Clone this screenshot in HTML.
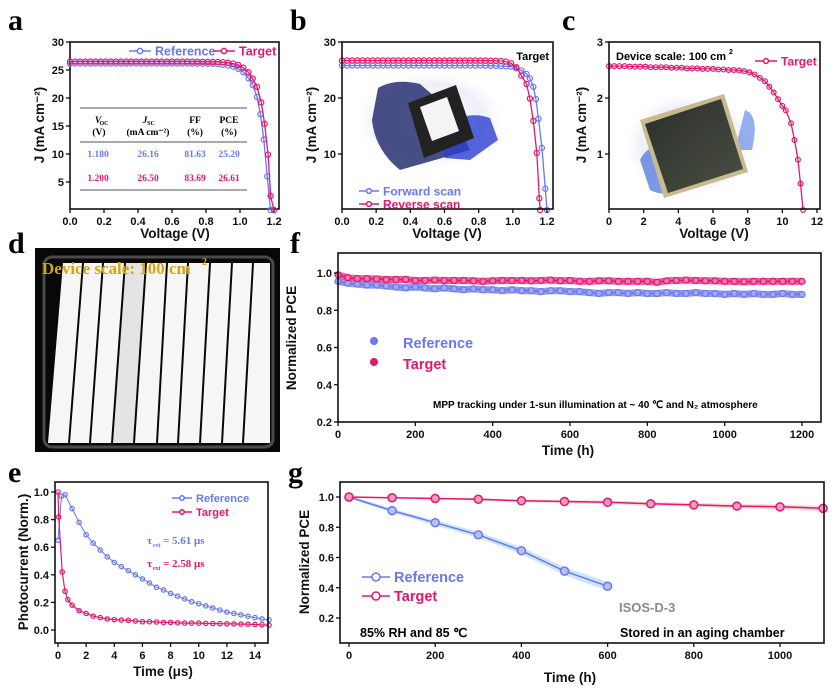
<!DOCTYPE html>
<html><head><meta charset="utf-8">
<style>
html,body{margin:0;padding:0;background:#fff;}
svg{display:block;font-family:"Liberation Sans",sans-serif;}
.tk{font-size:11px;font-weight:bold;fill:#111;}
.at{font-size:13.5px;font-weight:bold;fill:#111;}
.pl{font-family:"Liberation Serif",serif;font-weight:bold;font-size:30px;fill:#000;}
</style></head><body>
<svg id="fig" width="832" height="690" viewBox="0 0 832 690">
<defs>
<radialGradient id="glowB" cx="50%" cy="50%" r="50%"><stop offset="0" stop-color="#ffffff"/><stop offset="0.7" stop-color="#eef0f8"/><stop offset="1" stop-color="#ffffff" stop-opacity="0"/></radialGradient>
<linearGradient id="cellG" x1="0" y1="0" x2="1" y2="1"><stop offset="0" stop-color="#2a2f2a"/><stop offset="1" stop-color="#4a4f44"/></linearGradient>
</defs>
<g id="root"></g>
</svg>
<script>
// ---------- data ----------
const aV = [0,.03,.06,.09,.12,.15,.18,.21,.24,.27,.30,.33,.36,.39,.42,.45,.48,.51,.54,.57,.60,.63,.66,.69,.72,.75,.78,.81,.84,.87,.90,.93,.96,.99,1.02];
const aRefTailV = [1.05,1.075,1.1,1.12,1.14,1.16,1.18];
const aRefJ = [26.16,26.16,26.16,26.16,26.16,26.16,26.16,26.16,26.16,26.16,26.16,26.16,26.16,26.16,26.16,26.16,26.16,26.16,26.16,26.16,26.16,26.16,26.16,26.16,26.15,26.14,26.13,26.12,26.1,26.05,25.95,25.8,25.6,25.2,24.6, 23.5,22.3,20.2,17.1,12.6,6.0,0];
const aTarTailV = [1.05,1.075,1.1,1.125,1.145,1.165,1.18,1.2];
const aTarJ = [26.5,26.5,26.5,26.5,26.5,26.5,26.5,26.5,26.5,26.5,26.5,26.5,26.5,26.5,26.5,26.5,26.5,26.5,26.5,26.5,26.5,26.5,26.5,26.5,26.49,26.48,26.47,26.45,26.43,26.42,26.4,26.3,26.15,25.9,25.4, 24.6,23.5,22.0,19.2,15.4,9.9,2.5,0];
const bFwdTailV = [1.05,1.08,1.1,1.12,1.135,1.15,1.17,1.19,1.2];
const bFwdJ = [25.8,25.8,25.8,25.8,25.8,25.8,25.8,25.8,25.8,25.8,25.8,25.8,25.8,25.8,25.8,25.8,25.8,25.8,25.8,25.8,25.8,25.8,25.8,25.8,25.8,25.8,25.8,25.8,25.78,25.76,25.74,25.7,25.65,25.6,25.3, 24.9,24.3,23.5,22.0,19.8,16.3,11.1,3.8,0];
const bRevTailV = [1.05,1.08,1.1,1.12,1.14,1.155,1.16];
const bRevJ = [26.7,26.7,26.7,26.7,26.7,26.7,26.7,26.7,26.7,26.7,26.7,26.7,26.7,26.7,26.7,26.7,26.7,26.7,26.7,26.7,26.7,26.7,26.7,26.7,26.7,26.7,26.7,26.7,26.68,26.66,26.64,26.6,26.5,26.2,25.5, 24.0,22.5,19.9,15.9,10.2,2.1,0];
const cV = [0,.3,.6,.9,1.2,1.5,1.8,2.1,2.4,2.7,3.0,3.3,3.6,3.9,4.2,4.5,4.8,5.1,5.4,5.7,6.0,6.3,6.6,6.9,7.2,7.5,7.8,8.1,8.4,8.7,9.0,9.25,9.5,9.75,10.0,10.2,10.5,10.7,10.9,11.05,11.2];
const cJ = [2.57,2.57,2.57,2.57,2.56,2.56,2.56,2.56,2.55,2.55,2.55,2.55,2.54,2.54,2.54,2.53,2.53,2.53,2.52,2.52,2.52,2.51,2.51,2.50,2.50,2.49,2.48,2.46,2.42,2.36,2.3,2.2,2.1,1.98,1.86,1.78,1.55,1.25,0.9,0.47,0];
const eT = [0,.25,.5,1,1.5,2,2.5,3,3.5,4,4.5,5,5.5,6,6.5,7,7.5,8,8.5,9,9.5,10,10.5,11,11.5,12,12.5,13,13.5,14,14.5,15];
const eRef = [0.65,0.97,0.98,0.88,0.78,0.69,0.63,0.58,0.53,0.49,0.46,0.43,0.40,0.37,0.34,0.31,0.29,0.265,0.245,0.225,0.205,0.19,0.175,0.16,0.145,0.13,0.12,0.11,0.1,0.09,0.08,0.073];
const eTT = [0,.05,.3,.5,.7,1,1.5,2,2.5,3,3.5,4,4.5,5,5.5,6,6.5,7,7.5,8,8.5,9,9.5,10,10.5,11,11.5,12,12.5,13,13.5,14,14.5,15];
const eTar = [1.0,0.82,0.42,0.28,0.22,0.18,0.14,0.12,0.1,0.09,0.08,0.075,0.072,0.07,0.065,0.06,0.06,0.058,0.055,0.055,0.052,0.05,0.05,0.05,0.048,0.047,0.046,0.045,0.044,0.043,0.042,0.04,0.038,0.035];
const fT = [0,25,50,75,100,125,150,175,200,225,250,275,300,325,350,375,400,425,450,475,500,525,550,575,600,625,650,675,700,725,750,775,800,825,850,875,900,925,950,975,1000,1025,1050,1075,1100,1125,1150,1175,1200];
const fRef = [0.955,0.945,0.94,0.935,0.935,0.93,0.925,0.92,0.925,0.92,0.915,0.92,0.915,0.91,0.915,0.91,0.91,0.905,0.91,0.905,0.905,0.9,0.905,0.905,0.9,0.9,0.895,0.89,0.895,0.895,0.89,0.895,0.89,0.89,0.895,0.89,0.89,0.895,0.89,0.89,0.885,0.89,0.885,0.89,0.885,0.885,0.89,0.885,0.885];
const fTar = [0.99,0.975,0.97,0.97,0.968,0.965,0.965,0.965,0.96,0.96,0.962,0.96,0.96,0.96,0.958,0.955,0.958,0.96,0.96,0.96,0.958,0.96,0.962,0.958,0.96,0.955,0.955,0.958,0.958,0.955,0.955,0.955,0.955,0.95,0.958,0.96,0.962,0.96,0.958,0.958,0.955,0.955,0.953,0.955,0.955,0.955,0.955,0.955,0.955];
const gRefT = [0,100,200,300,400,500,600];
const gRef = [1.0,0.91,0.83,0.75,0.645,0.51,0.41];
const gTarT = [0,100,200,300,400,500,600,700,800,900,1000,1100];
const gTar = [1.0,0.995,0.99,0.985,0.975,0.97,0.965,0.955,0.948,0.94,0.935,0.925];

const BLUE = '#6a78ec', PINK = '#e0186e';
const NS = 'http://www.w3.org/2000/svg';
const root = document.getElementById('root');
function mk(tag, attrs, parent){ const e=document.createElementNS(NS,tag); for(const k in attrs) e.setAttribute(k,attrs[k]); (parent||root).appendChild(e); return e; }
function txt(x,y,s,cls,extra,parent){ const t=mk('text',Object.assign({x:x,y:y,class:cls||''},extra||{}),parent); t.textContent=s; return t; }
function lin(d0,d1,r0,r1){ return v => r0 + (v-d0)*(r1-r0)/(d1-d0); }

function axes(name, box, xs, ys, xt, yt){
  const g = mk('g',{});
  
  
  const fr = mk('rect',{x:box.x0,y:box.y0,width:box.x1-box.x0,height:box.y1-box.y0,fill:'none',stroke:'#111','stroke-width':1.6},g);
  
  
  xt.forEach(v=>{ const x=xs(v.v);
    mk('line',{x1:x,x2:x,y1:box.y1,y2:box.y1+4,stroke:'#111','stroke-width':1.3},g);
    const t = txt(x,box.y1+16,v.lab,'tk',{'text-anchor':'middle'},g);
    
    
  });
  yt.forEach(v=>{ const y=ys(v.v);
    mk('line',{x1:box.x0-4,x2:box.x0,y1:y,y2:y,stroke:'#111','stroke-width':1.3},g);
    const t = txt(box.x0-6,y+4,v.lab,'tk',{'text-anchor':'end'},g);
    
    
  });
  return g;
}
function xticks(arr, fmt){ return arr.map(v=>({v:v,lab:fmt(v)})); }
function series(name, X, Y, xs, ys, color, r, opts){
  opts = opts||{};
  const g = mk('g',{});
  
  
  const pts = X.map((x,i)=>xs(x).toFixed(1)+','+ys(Y[i]).toFixed(1)).join(' ');
  if(opts.under) mk('polyline',{points:pts,fill:'none',stroke:opts.under,'stroke-width':opts.underW||6,'stroke-linejoin':'round'},g);
  mk('polyline',{points:pts,fill:'none',stroke:color,'stroke-width':opts.lw||1.3},g);
  X.forEach((x,i)=>{
    const c = mk('circle',{cx:xs(x),cy:ys(Y[i]),r:r,fill:opts.fill||'none',stroke:color,'stroke-width':opts.sw||1.2},g);
    
    
  });
  return g;
}
function legendLine(name,x,y,len,color,label,size,r){
  const g = mk('g',{});
  
  
  mk('line',{x1:x,x2:x+len,y1:y,y2:y,stroke:color,'stroke-width':1.6},g);
  mk('circle',{cx:x+len/2,cy:y,r:r,fill:'#fff',stroke:color,'stroke-width':1.5},g);
  txt(x+len+4,y+size*0.36,label,'',{fill:color,'font-size':size,'font-weight':'bold'},g);
}
function rotTitle(x,y,s,name){ const t=txt(x,y,s,'at',{'text-anchor':'middle',transform:'rotate(-90 '+x+' '+y+')'});   return t; }
function title(x,y,s,name){ const t=txt(x,y,s,'at',{'text-anchor':'middle'});   return t; }
function plab(x,y,s){ const t=txt(x,y,s,'pl');   }

// ---------- panel labels ----------
plab(8,30,'a'); plab(290,30,'b'); plab(562,30,'c');
plab(8,253,'d'); plab(290,253,'f'); plab(8,482,'e'); plab(288,482,'g');

// ---------- panel a ----------
(function(){
  const box={x0:70,x1:279,y0:42,y1:209};
  const xs=lin(0,1.2,70,274), ys=lin(0,30,210,42);
  axes('panel-a',box,xs,ys,xticks([0,.2,.4,.6,.8,1.0,1.2],v=>v.toFixed(1)),[5,10,15,20,25,30].map(v=>({v:v,lab:String(v)})));
  const tg = mk('g',{});  
  [108,142,190].forEach(y=>mk('line',{x1:80,x2:247,y1:y,y2:y,stroke:'#555','stroke-width':1},tg));
  const ser={'font-family':'Liberation Serif, serif','font-weight':'bold','font-size':9.5,'text-anchor':'middle'};
  txt(98,123,'V','',Object.assign({},ser,{'font-style':'italic'}),tg); txt(104,125,'OC','',Object.assign({},ser,{'font-size':6}),tg);
  txt(99,135,'(V)','',ser,tg);
  txt(145,123,'J','',Object.assign({},ser,{'font-style':'italic'}),tg); txt(151,125,'SC','',Object.assign({},ser,{'font-size':6}),tg);
  txt(148,135,'(mA cm⁻²)','',ser,tg);
  txt(195,123,'FF','',ser,tg); txt(195,135,'(%)','',ser,tg);
  txt(229,123,'PCE','',ser,tg); txt(229,135,'(%)','',ser,tg);
  [['1.180','26.16','81.63','25.20',157,BLUE],['1.200','26.50','83.69','26.61',181,PINK]].forEach(r=>{
    [98,148,195,229].forEach((x,i)=>txt(x,r[4],r[i],'',Object.assign({},ser,{fill:r[5]}),tg));
  });
  series('panel-a-reference-curve',aV.concat(aRefTailV),aRefJ,xs,ys,BLUE,2.6);
  series('panel-a-target-curve',aV.concat(aTarTailV),aTarJ,xs,ys,PINK,2.6);
  legendLine('panel-a-legend-reference',129,51,22,BLUE,'Reference',12.5,2.6);
  legendLine('panel-a-legend-target',213,51,22,PINK,'Target',12.5,2.6);
  rotTitle(44,125,'J (mA cm⁻²)','panel-a-y-axis-title');
  title(175,238,'Voltage (V)','panel-a-x-axis-title');
})();

// ---------- panel b ----------
(function(){
  const box={x0:342,x1:553,y0:42,y1:209};
  const xs=lin(0,1.2,342,547), ys=lin(0,30,210,42);
  const ph = mk('g',{});  
  mk('ellipse',{cx:430,cy:120,rx:78,ry:52,fill:'url(#glowB)'},ph);
  mk('path',{d:'M378 88 Q395 78 420 84 L450 110 L470 150 L400 170 Q375 150 372 120 Z',fill:'#1c2468',opacity:0.8},ph);
  mk('path',{d:'M440 125 Q470 110 490 118 L498 140 L470 160 L445 158 Z',fill:'#2c3fd0',opacity:0.8},ph);
  mk('polygon',{points:'408,103 456,85 474,138 424,158',fill:'#222'},ph);
  mk('polygon',{points:'420,107 447,97 459,131 432,141',fill:'#f4f4f4'},ph);
  series('panel-b-forward-curve',aV.concat(bFwdTailV),bFwdJ,xs,ys,BLUE,2.6);
  series('panel-b-reverse-curve',aV.concat(bRevTailV),bRevJ,xs,ys,PINK,2.6);
  axes('panel-b',box,xs,ys,xticks([0,.2,.4,.6,.8,1.0,1.2],v=>v.toFixed(1)),[10,20,30].map(v=>({v:v,lab:String(v)})));
  const t=txt(549,60,'Target','',{'font-size':11,'font-weight':'bold','text-anchor':'end'});  
  legendLine('panel-b-legend-forward',359,191,20,BLUE,'Forward scan',12,2.4);
  legendLine('panel-b-legend-reverse',359,204,20,PINK,'Reverse scan',12,2.4);
  rotTitle(316,125,'J (mA cm⁻²)','panel-b-y-axis-title');
  title(447,238,'Voltage (V)','panel-b-x-axis-title');
})();

// ---------- panel c ----------
(function(){
  const box={x0:609,x1:820,y0:42,y1:209};
  const xs=lin(0,12,609,817), ys=lin(0,3,210,42);
  const ph = mk('g',{});  
  mk('ellipse',{cx:690,cy:145,rx:70,ry:55,fill:'url(#glowB)'},ph);
  mk('path',{d:'M640 160 Q650 140 670 150 L700 185 Q670 200 650 190 Z',fill:'#5a7fe0',opacity:0.8},ph);
  mk('path',{d:'M745 110 Q760 115 752 150 L735 150 Z',fill:'#6a8fe6',opacity:0.7},ph);
  mk('polygon',{points:'640,120 724,94 748,172 664,198',fill:'#c9b98f'},ph);
  mk('polygon',{points:'645,124 721,99 743,169 668,193',fill:'url(#cellG)'},ph);
  series('panel-c-target-curve',cV,cJ,xs,ys,PINK,2.4);
  axes('panel-c',box,xs,ys,xticks([0,2,4,6,8,10,12],v=>String(v)),[1,2,3].map(v=>({v:v,lab:String(v)})));
  const t=txt(616,60,'Device scale: 100 cm','',{'font-size':11,'font-weight':'bold'});  
  txt(729,54,'2','',{'font-size':7,'font-weight':'bold'});
  legendLine('panel-c-legend-target',755,61,22,PINK,'Target',12,2.4);
  rotTitle(586,125,'J (mA cm⁻²)','panel-c-y-axis-title');
  title(714,238,'Voltage (V)','panel-c-x-axis-title');
})();

// ---------- panel d (EL image) ----------
(function(){
  const g = mk('g',{});  
  mk('rect',{x:35,y:248,width:245,height:204,fill:'#080808'},g);
  mk('rect',{x:44,y:257,width:229,height:190,rx:8,fill:'none',stroke:'#4a4a4a','stroke-width':3},g);
  const topX=[62,83,103,125,146,167,188,210,232,253,271];
  const botX=[47,69,90,112,134,157,178,200,222,243,271];
  for(let i=0;i<10;i++){
    const p = mk('polygon',{points:(topX[i]+1)+',263 '+(topX[i+1]-1)+',263 '+(botX[i+1]-1)+',443 '+(botX[i]+1)+',443',fill:i==3?'#e4e4e4':'#f6f6f6'},g);
    
    
  }
  const t=txt(42,274,'Device scale: 100 cm','',{'font-family':'Liberation Serif, serif','font-weight':'bold','font-size':17,fill:'#d9a406'},g);
  
  
  txt(202,265,'2','',{'font-family':'Liberation Serif, serif','font-weight':'bold','font-size':10,fill:'#d9a406'},g);
})();

// ---------- panel f ----------
(function(){
  const box={x0:338,x1:821,y0:253,y1:422};
  const xs=lin(0,1200,338,802), ys=lin(0.2,1.0,422,273);
  series('panel-f-reference-series',fT,fRef,xs,ys,BLUE,3,{under:'#8c98f0',underW:7,fill:'#a0aaf4',lw:0});
  series('panel-f-target-series',fT,fTar,xs,ys,PINK,3,{under:'#ec5a98',underW:7,fill:'#f27ab0',lw:0});
  axes('panel-f',box,xs,ys,xticks([0,200,400,600,800,1000,1200],v=>String(v)),[0.2,0.4,0.6,0.8,1.0].map(v=>({v:v,lab:v.toFixed(1)})));
  const l1=mk('circle',{cx:374,cy:341,r:4,fill:BLUE});  
  txt(403,348,'Reference','',{fill:BLUE,'font-size':14.5,'font-weight':'bold'});
  const l2=mk('circle',{cx:374,cy:362,r:4,fill:PINK});  
  txt(403,369,'Target','',{fill:PINK,'font-size':14.5,'font-weight':'bold'});
  const a=txt(433,408,'MPP tracking under 1-sun illumination at ~ 40 ℃ and N₂ atmosphere','',{'font-size':10,'font-weight':'bold'});
   
  rotTitle(296,338,'Normalized PCE','panel-f-y-axis-title');
  title(568,455,'Time (h)','panel-f-x-axis-title');
})();

// ---------- panel e ----------
(function(){
  const box={x0:55,x1:268,y0:482,y1:643};
  const xs=lin(0,14,58,255), ys=lin(0,1,630,492);
  series('panel-e-reference-series',eT,eRef,xs,ys,BLUE,2.2,{lw:1});
  series('panel-e-target-series',eTT,eTar,xs,ys,PINK,2.2,{lw:1.2});
  const yt=[0,0.2,0.4,0.6,0.8,1.0].map(v=>({v:v,lab:v.toFixed(1)}));
  axes('panel-e',box,xs,ys,xticks([0,2,4,6,8,10,12,14],v=>String(v)),yt);
  legendLine('panel-e-legend-reference',172,498,20,BLUE,'Reference',11,2.2);
  legendLine('panel-e-legend-target',172,512,20,PINK,'Target',11,2.2);
  const ser={'font-family':'Liberation Serif, serif','font-weight':'bold','font-size':11};
  txt(147,544,'τ','',Object.assign({fill:BLUE},ser)); txt(153,547,'ext','',Object.assign({fill:BLUE},ser,{'font-size':6})); txt(163,544,'= 5.61 μs','',Object.assign({fill:BLUE},ser));
  txt(147,567,'τ','',Object.assign({fill:PINK},ser)); txt(153,570,'ext','',Object.assign({fill:PINK},ser,{'font-size':6})); txt(163,567,'= 2.58 μs','',Object.assign({fill:PINK},ser));
  rotTitle(28,562,'Photocurrent (Norm.)','panel-e-y-axis-title');
  title(163,676,'Time (μs)','panel-e-x-axis-title');
})();

// ---------- panel g ----------
(function(){
  const box={x0:340,x1:824,y0:482,y1:643};
  const xs=lin(0,1000,349,780), ys=lin(0.2,1.0,618,497);
  function band(name,T,V,w0,w1,color){
    const up=T.map((t,i)=>xs(t)+','+ys(V[i]+w0+(w1-w0)*i/(T.length-1)));
    const dn=T.map((t,i)=>xs(t)+','+ys(V[i]-w0-(w1-w0)*i/(T.length-1))).reverse();
    const p=mk('polygon',{points:up.concat(dn).join(' '),fill:color,opacity:0.45});
     
  }
  band('panel-g-reference-band',gRefT,gRef,0.01,0.03,'#8fc6f0');
  band('panel-g-target-band',gTarT,gTar,0.004,0.018,'#f5b5a0');
  series('panel-g-reference-series',gRefT,gRef,xs,ys,BLUE,4,{fill:'#b8c0f6',lw:1.5,sw:1.5});
  series('panel-g-target-series',gTarT,gTar,xs,ys,PINK,4,{fill:'#f39ac0',lw:1.5,sw:1.5});
  axes('panel-g',box,xs,ys,xticks([0,200,400,600,800,1000],v=>String(v)),[0.2,0.4,0.6,0.8,1.0].map(v=>({v:v,lab:v.toFixed(1)})));
  legendLine('panel-g-legend-reference',362,577,28,BLUE,'Reference',14.5,4);
  legendLine('panel-g-legend-target',362,596,28,PINK,'Target',14.5,4);
  txt(619,612,'ISOS-D-3','',{fill:'#8a8a8a','font-size':13,'font-weight':'bold'});
  txt(360,637,'85% RH and 85 ℃','',{'font-size':12.5,'font-weight':'bold'});
  txt(620,637,'Stored in an aging chamber','',{'font-size':12.5,'font-weight':'bold'});
  rotTitle(309,562,'Normalized PCE','panel-g-y-axis-title');
  title(570,682,'Time (h)','panel-g-x-axis-title');
})();
</script>
</body></html>
